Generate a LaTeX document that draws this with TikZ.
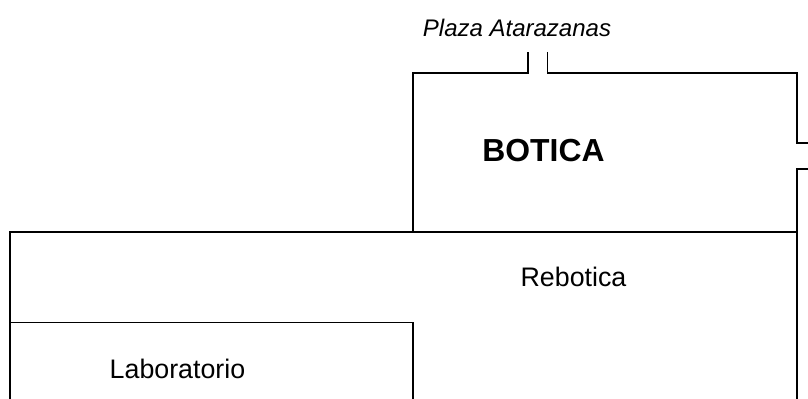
\documentclass[tikz,border=0pt]{standalone}
\usepackage{fontspec}
\setmainfont{Liberation Sans}
\tikzset{
  x=0.75pt,y=-0.75pt,
  wall/.style={draw=black,line width=1.1pt,line join=miter},
  lbl/.style={inner sep=0pt,anchor=center}
}
\begin{document}
\begin{tikzpicture}
\useasboundingbox (0,0) rectangle (808,399);
\draw[wall] (413,232) -- (413,73) -- (528,73) -- (528,52);
\draw[wall] (547.5,52) -- (547.5,73) -- (797,73) -- (797,143) -- (808,143);
\draw[wall] (808,169) -- (797,169) -- (797,399);
\draw[wall] (10,399) -- (10,232) -- (797,232);
\draw[wall] (10,322.5) -- (413,322.5) -- (413,399);
\node[lbl,font=\fontsize{18}{21}\selectfont\itshape] (plaza) at (517,28) {Plaza Atarazanas};
\node[lbl,font=\fontsize{23.9}{28}\selectfont\bfseries] (botica) at (543.5,151) {BOTICA};
\node[lbl,font=\fontsize{20.1}{24}\selectfont] (rebotica) at (573.5,277) {Rebotica};
\node[lbl,font=\fontsize{20.1}{24}\selectfont] (lab) at (177.5,369) {Laboratorio};
\end{tikzpicture}
\end{document}
